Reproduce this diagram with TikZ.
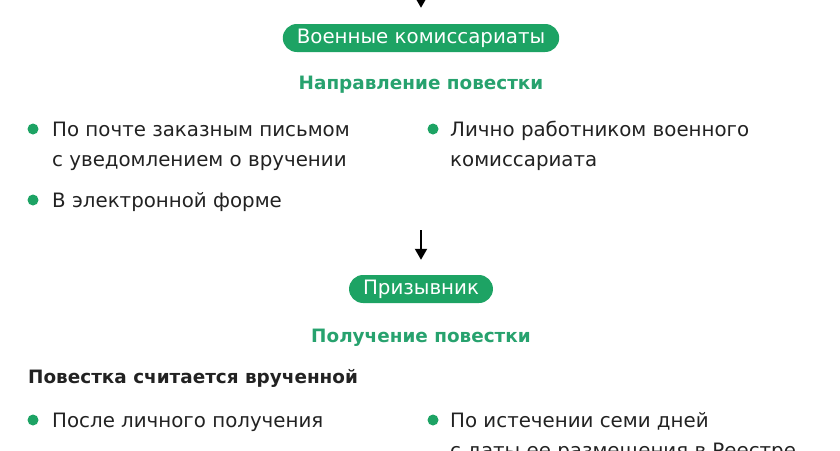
\documentclass[tikz,border=0pt]{standalone}
\usepackage{fontspec}
\setmainfont{DejaVu Sans}
\usetikzlibrary{positioning, arrows.meta}
\definecolor{pillgreen}{HTML}{1DA364}
\definecolor{headgreen}{HTML}{27A26E}
\definecolor{inkblack}{HTML}{222222}
\tikzset{
  pill/.style={rectangle, rounded corners=14pt, fill=pillgreen, text=white,
    minimum height=28pt, inner xsep=14pt, inner ysep=0pt,
    font=\fontsize{19.8}{22}\selectfont},
  headtext/.style={font=\fontsize{18.4}{22}\selectfont\bfseries, text=headgreen},
  item/.style={anchor=base west, align=left, inner sep=0pt, text=inkblack,
    font=\fontsize{19.8}{30}\selectfont},
  dot/.style={circle, fill=pillgreen, minimum size=11pt, inner sep=0pt},
  arr/.style={-{Triangle[width=12pt,length=11pt]}, line width=2pt, black}
}
\begin{document}
\begin{tikzpicture}[x=1pt, y=-1pt]
      \useasboundingbox (0,0) rectangle (840,450);
      \clip (0,0) rectangle (840,450);

      % who sends the summons (two-line items sit on their last baseline)
      \coordinate (top) at (421,-30);
      \node[pill] (kom) at (421,38) {Военные комиссариаты};
      \draw[arr, shorten >=16pt] (top) -- (kom);
      \node[headtext, anchor=base] (napr) at (421,89) {Направление повестки};

      \node[dot] (d1) at (33,129) {};
      \node[item] (post) at (52,166) {По почте заказным письмом\\с уведомлением о вручении};
      \node[dot] (d2) at (433,129) {};
      \node[item] (pers) at (450,166) {Лично работником военного\\комиссариата};
      \node[dot] (d3) at (33,200) {};
      \node[item] (elec) at (52,207) {В электронной форме};

      % who receives it
      \coordinate (mid) at (421,230);
      \node[pill] (priz) at (421,289) {Призывник};
      \draw[arr, shorten >=15pt] (mid) -- (priz);
      \node[headtext, anchor=base] (polu) at (421,342) {Получение повестки};

      \node[font=\fontsize{18.4}{22}\selectfont\bfseries, text=inkblack,
        anchor=base west, inner sep=0pt] (vruch) at (28,383) {Повестка считается врученной};

      \node[dot] (d4) at (33,420) {};
      \node[item] (lich) at (52,427) {После личного получения};
      \node[dot] (d5) at (433,420) {};
      \node[item] (reestr) at (450,457) {По истечении семи дней\\с даты ее размещения в Реестре};
    \end{tikzpicture}
\end{document}
